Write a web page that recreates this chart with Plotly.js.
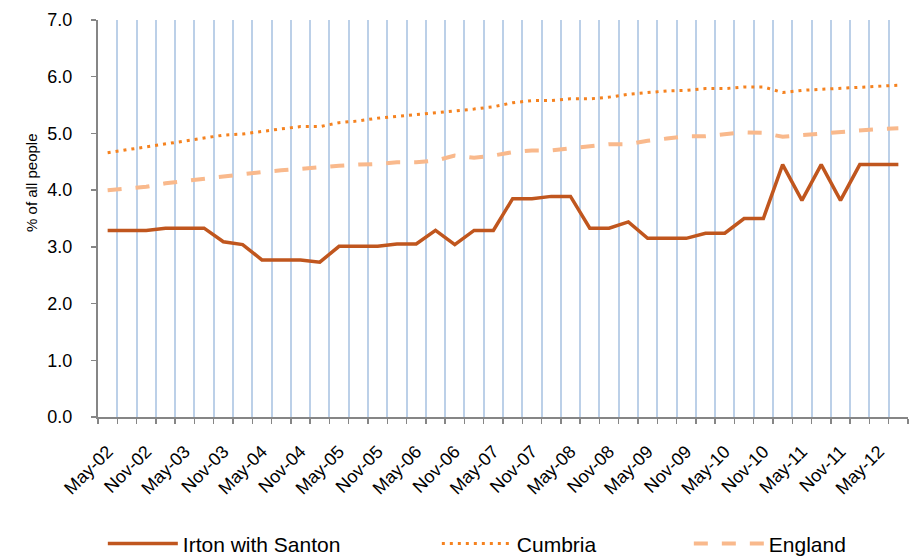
<!DOCTYPE html>
<html>
<head>
<meta charset="utf-8">
<script src="https://cdn.plot.ly/plotly-3.0.1.min.js"></script>
<style>html,body{margin:0;padding:0;background:#fff}#chart{width:910px;height:556px}</style>
</head>
<body>
<div id="chart"></div>
<script>
const quarters = ["May-02","Aug-02","Nov-02","Feb-03","May-03","Aug-03","Nov-03","Feb-04","May-04","Aug-04","Nov-04","Feb-05","May-05","Aug-05","Nov-05","Feb-06","May-06","Aug-06","Nov-06","Feb-07","May-07","Aug-07","Nov-07","Feb-08","May-08","Aug-08","Nov-08","Feb-09","May-09","Aug-09","Nov-09","Feb-10","May-10","Aug-10","Nov-10","Feb-11","May-11","Aug-11","Nov-11","Feb-12","May-12","Aug-12"];
const tickLabels = ["May-02","","Nov-02","","May-03","","Nov-03","","May-04","","Nov-04","","May-05","","Nov-05","","May-06","","Nov-06","","May-07","","Nov-07","","May-08","","Nov-08","","May-09","","Nov-09","","May-10","","Nov-10","","May-11","","Nov-11","","May-12",""];
const irton = [3.29,3.29,3.29,3.33,3.33,3.33,3.09,3.04,2.77,2.77,2.77,2.73,3.01,3.01,3.01,3.05,3.05,3.29,3.04,3.29,3.29,3.85,3.85,3.89,3.89,3.33,3.33,3.44,3.15,3.15,3.15,3.24,3.24,3.50,3.50,4.45,3.82,4.45,3.82,4.45,4.45,4.45];
const cumbria = [4.66,4.71,4.77,4.81,4.87,4.91,4.97,4.99,5.04,5.08,5.12,5.12,5.19,5.22,5.27,5.30,5.34,5.36,5.40,5.43,5.47,5.54,5.58,5.58,5.61,5.61,5.64,5.69,5.72,5.75,5.76,5.79,5.79,5.82,5.82,5.72,5.76,5.78,5.80,5.82,5.83,5.85];
const england = [4.00,4.03,4.06,4.12,4.16,4.20,4.25,4.28,4.32,4.35,4.38,4.40,4.43,4.45,4.46,4.49,4.49,4.52,4.61,4.57,4.61,4.67,4.70,4.70,4.74,4.78,4.81,4.81,4.87,4.91,4.95,4.95,4.99,5.02,5.01,4.94,4.97,5.00,5.02,5.06,5.08,5.09];

const FONT = '"Liberation Sans", Arial, sans-serif';
const traces = [
  {x: quarters, y: irton, name: 'Irton with Santon', type: 'scatter', mode: 'lines',
   line: {color: '#C0561E', width: 3.5}, legendwidth: 249},
  {x: quarters, y: cumbria, name: 'Cumbria', type: 'scatter', mode: 'lines',
   line: {color: '#F5821F', width: 3, dash: '3px,5px'}, legendwidth: 167},
  {x: quarters, y: england, name: 'England', type: 'scatter', mode: 'lines',
   line: {color: '#F9B98C', width: 4, dash: '14px,14px'}}
];
const layout = {
  width: 910, height: 556,
  margin: {l: 98, r: 2, t: 20, b: 139},
  paper_bgcolor: '#fff', plot_bgcolor: '#fff',
  font: {family: FONT, color: '#000'},
  showlegend: true,
  legend: {orientation: 'h', xref: 'container', yref: 'container', x: 0.113, xanchor: 'left', y: 0.022, yanchor: 'middle',
           font: {family: FONT, size: 21, color: '#000'}, itemwidth: 70, bgcolor: 'rgba(0,0,0,0)'},
  xaxis: {type: 'category', range: [-0.5, 41.5], tickmode: 'array', tickvals: quarters, ticktext: tickLabels,
          tickson: 'boundaries', ticks: 'outside', ticklen: 5, tickwidth: 1.5, tickcolor: '#868686',
          showgrid: true, gridcolor: '#BCD0E8', gridwidth: 2,
          showline: true, linecolor: '#868686', linewidth: 2, tickangle: -45, ticklabelstandoff: 15,
          tickfont: {family: FONT, size: 18, color: '#000'}, fixedrange: true},
  yaxis: {range: [0, 7], dtick: 1, tick0: 0, tickformat: '.1f', showgrid: false, zeroline: false,
          showline: true, linecolor: '#868686', linewidth: 2, ticks: 'outside', ticklen: 5, tickwidth: 1.5,
          ticklabelstandoff: 15,
          tickcolor: '#868686', tickfont: {family: FONT, size: 18, color: '#000'}, fixedrange: true},
  annotations: [{text: '% of all people', xref: 'paper', yref: 'paper', x: -0.096, y: 0.589,
                 textangle: -90, showarrow: false, font: {family: FONT, size: 15, color: '#000'}}]
};
Plotly.newPlot('chart', traces, layout, {displayModeBar: false, staticPlot: true});
</script>
</body>
</html>
